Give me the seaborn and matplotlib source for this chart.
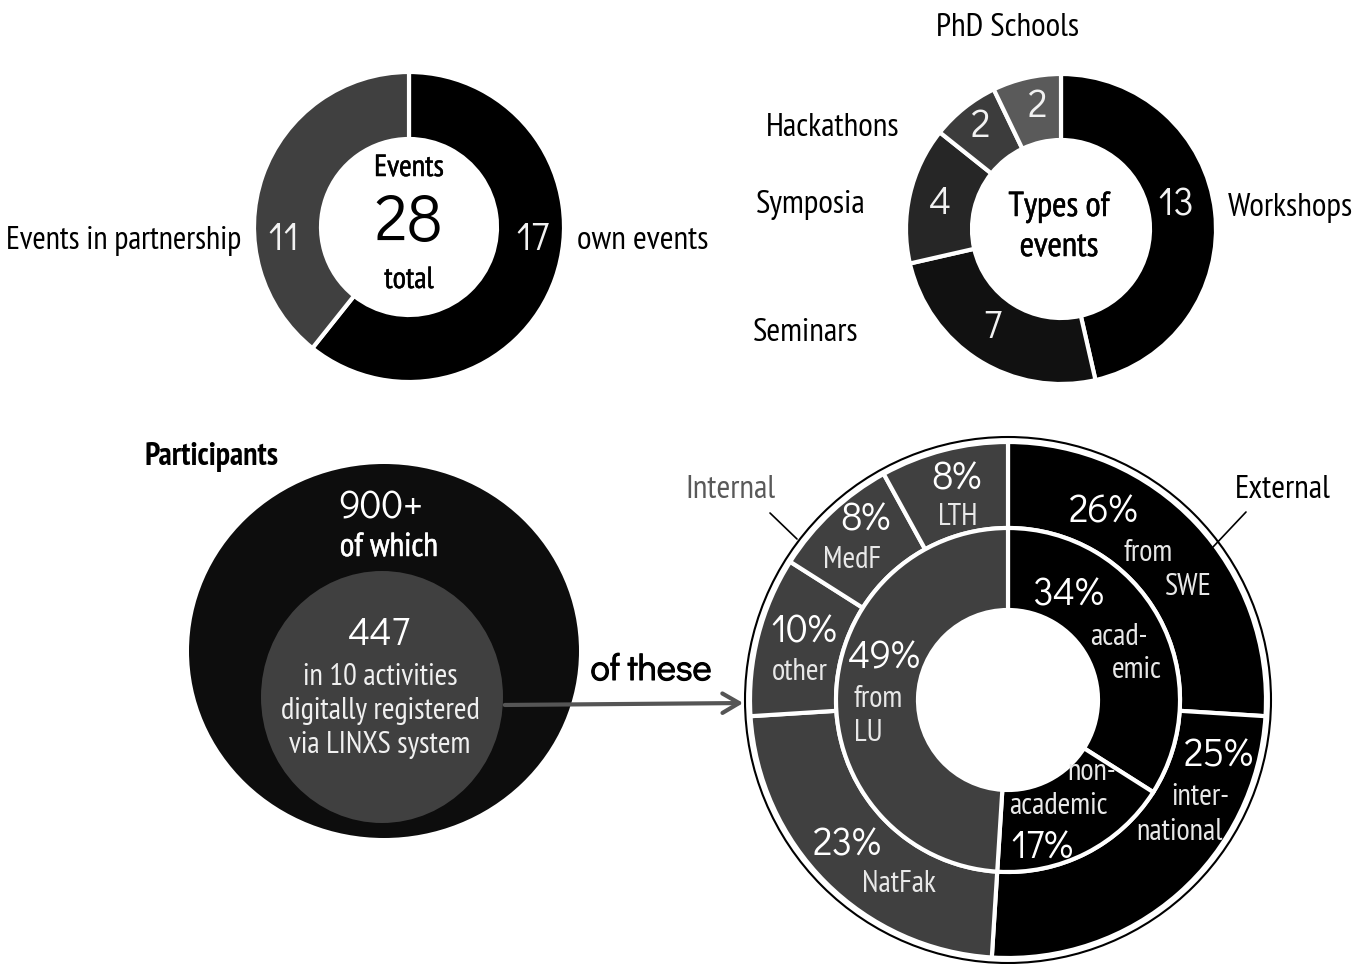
import matplotlib
matplotlib.use("Agg")
import matplotlib.pyplot as plt
from matplotlib.patches import Ellipse, Circle, FancyArrowPatch
import matplotlib.patheffects as pe
import seaborn as sns

# ---- data -------------------------------------------------------------
event_labels = ["own events", "Events in partnership"]
event_counts = [17, 11]

type_labels = ["Workshops", "Seminars", "Symposia", "Hackathons", "PhD Schools"]
type_counts = [13, 7, 4, 2, 2]

participants_total = "900+"
participants_registered = 447
registered_activities = 10

origin_groups = ["External", "Internal"]
inner_labels = ["acad-\nemic", "non-\nacademic", "from\nLU"]
inner_pct = [34, 17, 49]
outer_labels = ["from\nSWE", "inter-\nnational", "NatFak", "other", "MedF", "LTH"]
outer_pct = [26, 25, 23, 10, 8, 8]

# ---- style ------------------------------------------------------------
sns.set_theme(style="white")
NARROW = ["PT Sans Narrow", "Archivo Narrow", "DejaVu Sans"]
ROUND = ["Didact Gothic", "Questrial", "Lato", "DejaVu Sans"]
plt.rcParams["font.family"] = NARROW

W, H = 1362, 964
fig = plt.figure(figsize=(W / 100, H / 100), dpi=100)
ax = fig.add_axes([0, 0, 1, 1])


def Y(y):
    return H - y


def txt(x, y, s, size, color="black", family=NARROW, weight="normal", ha="center",
        heavy=0.0, **kw):
    t = ax.text(x, Y(y), s, fontsize=size, color=color, family=family,
                weight=weight, ha=ha, va="center", **kw)
    if heavy:
        t.set_path_effects([pe.withStroke(linewidth=heavy, foreground=color)])
    return t


WEDGE = dict(edgecolor="white", linewidth=3)
NUM = "#f2f2f2"

# ---- events donut -----------------------------------------------------
ev_colors = sns.color_palette(["#000000", "#404040"])
ax.pie(event_counts, colors=ev_colors, startangle=90, counterclock=False,
       radius=155, center=(409, Y(227)),
       wedgeprops=dict(width=67, **WEDGE))
txt(409, 168, "Events", 22, heavy=0.35)
txt(409, 224, str(sum(event_counts)), 47, family=ROUND)
txt(409, 280, "total", 22, heavy=0.35)
txt(533, 240, str(event_counts[0]), 28, color=NUM, family=ROUND)
txt(284, 240, str(event_counts[1]), 28, color=NUM, family=ROUND)
txt(577, 241, event_labels[0], 24, ha="left")
txt(241, 241, event_labels[1], 23.2, ha="right")

# ---- event types donut -------------------------------------------------
type_colors = sns.color_palette(["#000000", "#111111", "#262626", "#3c3c3c", "#5a5a5a"])
ax.pie(type_counts, colors=type_colors, startangle=90, counterclock=False,
       radius=155, center=(1061, Y(229)),
       wedgeprops=dict(width=66, **WEDGE))
txt(1059, 207, "Types of", 25, heavy=0.35)
txt(1059, 247, "events", 25, heavy=0.35)
type_num_pos = [(1176, 205), (992, 328), (940, 204), (980, 127), (1037, 107)]
for (x, y), v in zip(type_num_pos, type_counts):
    txt(x, y, str(v), 28, color=NUM, family=ROUND)
type_lab_pos = [(1228, 208, "left"), (806, 333, "center"), (811, 205, "center"),
                (833, 128, "center"), (1008, 28, "center")]
for (x, y, ha), lab in zip(type_lab_pos, type_labels):
    txt(x, y, lab, 24, ha=ha)

# ---- participants ------------------------------------------------------
ax.add_patch(Ellipse((384, Y(651)), 390, 374, facecolor="#0d0d0d", edgecolor="none"))
ax.add_patch(Ellipse((382, Y(697)), 242, 252, facecolor="#404040", edgecolor="none"))
txt(212, 457, "Participants", 23, weight="bold")
txt(381, 508, participants_total, 28, color="white", family=ROUND)
txt(389, 548, "of which", 24, color="white", heavy=0.35)
txt(379, 635, str(participants_registered), 28, color="white", family=ROUND)
txt(380, 677, f"in {registered_activities} activities", 22, color="#f0f0f0")
txt(380, 711, "digitally registered", 22, color="#f0f0f0")
txt(380, 745, "via LINXS system", 22, color="#f0f0f0")

arrow = FancyArrowPatch((502, Y(705)), (746, Y(703)), arrowstyle="->,head_length=12,head_width=7",
                        color="#555555", linewidth=3, mutation_scale=1)
ax.add_patch(arrow)
txt(651, 670, "of these", 26, family=ROUND, heavy=0.8)

# ---- participant origin nested donut ----------------------------------
cx, cy = 1008, 700
grp_colors = {"External": "#000000", "Internal": "#404040"}
outer_groups = ["External", "External", "Internal", "Internal", "Internal", "Internal"]
inner_groups = ["External", "External", "Internal"]

ax.add_patch(Circle((cx, Y(cy)), 263, facecolor="white", edgecolor="black", linewidth=1.5))
ax.pie(outer_pct, colors=[grp_colors[g] for g in outer_groups], startangle=90,
       counterclock=False, radius=258, center=(cx, Y(cy)),
       wedgeprops=dict(width=86, **WEDGE))
ax.pie(inner_pct, colors=[grp_colors[g] for g in inner_groups], startangle=90,
       counterclock=False, radius=172, center=(cx, Y(cy)),
       wedgeprops=dict(width=82, **WEDGE))


def ring_label(lines_xy, label):
    for (lx, ly), line in zip(lines_xy, label.split("\n")):
        txt(lx, ly, line, 22, color="#e8e8e8")


outer_pct_pos = [(1103, 512), (1218, 756), (846, 845), (804, 632), (865, 520), (956, 479)]
outer_lab_pos = [[(1148, 553), (1188, 587)], [(1200, 797), (1180, 832)], [(899, 884)],
                 [(800, 672)], [(852, 560)], [(958, 517)]]
for (px, py), lxy, v, lab in zip(outer_pct_pos, outer_lab_pos, outer_pct, outer_labels):
    txt(px, py, f"{v}%", 28, color="white", family=ROUND)
    ring_label(lxy, lab)

inner_pct_pos = [(1068, 595), (1042, 848), (884, 658)]
inner_lab_pos = [[(1119, 637), (1137, 670)], [(1092, 772), (1058, 806)], [(878, 699), (868, 733)]]
for (px, py), lxy, v, lab in zip(inner_pct_pos, inner_lab_pos, inner_pct, inner_labels):
    txt(px, py, f"{v}%", 28, color="white", family=ROUND)
    ring_label(lxy, lab)

txt(730, 490, origin_groups[1], 24, color="#595959")
txt(1283, 490, origin_groups[0], 24)
ax.plot([770, 797], [Y(513), Y(539)], color="black", linewidth=1.2)
ax.plot([1246, 1213], [Y(512), Y(547)], color="black", linewidth=1.2)

ax.set_xlim(0, W)
ax.set_ylim(0, H)
ax.set_aspect("equal")
ax.axis("off")
fig.savefig("out.png", dpi=100, facecolor="white")
